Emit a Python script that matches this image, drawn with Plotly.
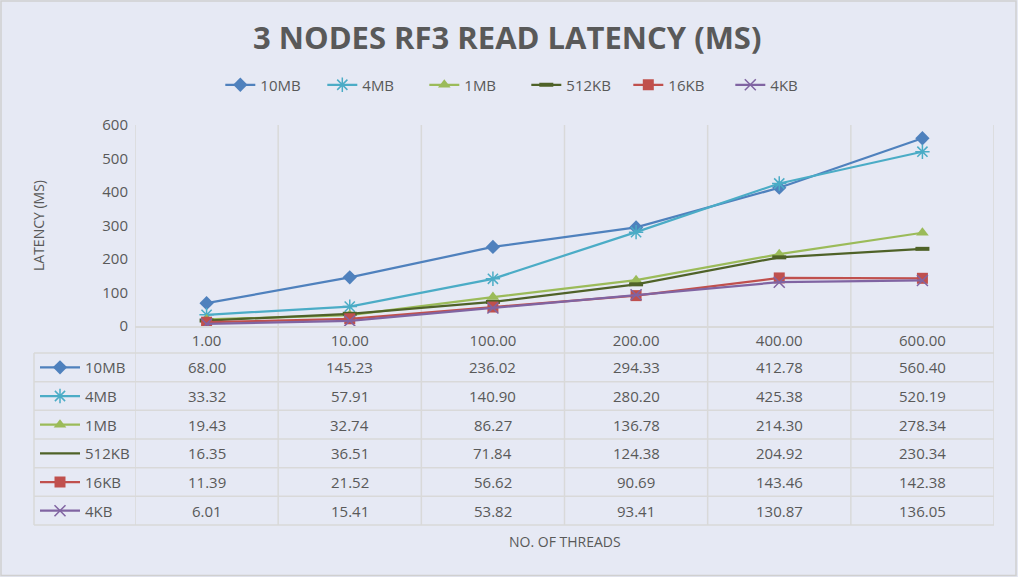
import plotly.graph_objects as go

W, H = 1018, 577

categories = ["1.00", "10.00", "100.00", "200.00", "400.00", "600.00"]
series_names = ["10MB", "4MB", "1MB", "512KB", "16KB", "4KB"]
v_10mb = [68.00, 145.23, 236.02, 294.33, 412.78, 560.40]
v_4mb = [33.32, 57.91, 140.90, 280.20, 425.38, 520.19]
v_1mb = [19.43, 32.74, 86.27, 136.78, 214.30, 278.34]
v_512kb = [16.35, 36.51, 71.84, 124.38, 204.92, 230.34]
v_16kb = [11.39, 21.52, 56.62, 90.69, 143.46, 142.38]
v_4kb = [6.01, 15.41, 53.82, 93.41, 130.87, 136.05]
series_values = [v_10mb, v_4mb, v_1mb, v_512kb, v_16kb, v_4kb]
y_ticks = [0, 100, 200, 300, 400, 500, 600]

colors = ["#4F81BD", "#4BACC6", "#9BBB59", "#4F6228", "#C0504D", "#8064A2"]
markers = [
    dict(symbol="diamond", size=11),
    dict(symbol="asterisk-open", size=12, line=dict(width=1.5)),
    dict(symbol="triangle-up", size=11),
    dict(symbol="line-ew-open", size=10, line=dict(width=4)),
    dict(symbol="square", size=11),
    dict(symbol="x-thin-open", size=11, line=dict(width=1.5)),
]

FONT = "Open Sans"
TXT = "#595959"
GRID = "#D9D9D9"
BG = "#E6E9F4"


def px(x):
    return x / W


def py(y):
    return 1 - y / H


PL, PR, PT, PB = 135, 994, 125, 326
TL, TT, TB = 34, 353, 525

fig = go.Figure()

for name, vals, col, mk in zip(series_names, series_values, colors, markers):
    m = dict(mk)
    m["color"] = col
    if "line" in m:
        m["line"] = dict(m["line"], color=col)
    fig.add_trace(go.Scatter(
        x=categories, y=vals, name=name, mode="lines+markers",
        line=dict(color=col, width=2.25), marker=m,
        xaxis="x", yaxis="y",
    ))

n_rows = len(series_names)
for i, (name, col, mk) in enumerate(zip(series_names, colors, markers)):
    fig.add_trace(go.Scatter(
        x=[6, 46], y=[i + 0.5, i + 0.5], mode="lines",
        line=dict(color=col, width=2.25), showlegend=False,
        xaxis="x2", yaxis="y2", hoverinfo="skip",
    ))
    if name != "512KB":
        m = dict(mk)
        m["color"] = col
        if "line" in m:
            m["line"] = dict(m["line"], color=col)
        fig.add_trace(go.Scatter(
            x=[26], y=[i + 0.5], mode="markers", marker=m, showlegend=False,
            xaxis="x2", yaxis="y2", hoverinfo="skip",
        ))

shapes = []
annotations = []

for k in range(n_rows + 1):
    yy = TT + k * (TB - TT) / n_rows
    shapes.append(dict(type="line", xref="paper", yref="paper",
                       x0=px(TL), x1=px(PR), y0=py(yy), y1=py(yy),
                       line=dict(color=GRID, width=1.5)))
shapes.append(dict(type="line", xref="paper", yref="paper",
                   x0=px(TL), x1=px(TL), y0=py(TT), y1=py(TB),
                   line=dict(color=GRID, width=1.5)))
for j in range(len(categories) + 1):
    shapes.append(dict(type="line", xref="x", yref="paper",
                       x0=j - 0.5, x1=j - 0.5, y0=py(TB), y1=py(PT),
                       line=dict(color=GRID, width=1.5), layer="below"))
shapes.append(dict(type="rect", xref="paper", yref="paper",
                   x0=px(1), x1=px(1016), y0=py(575.5), y1=py(1),
                   line=dict(color="#D0D0D0", width=1.5)))

for i, name in enumerate(series_names):
    annotations.append(dict(xref="x2", yref="y2", x=49, y=i + 0.5, text=name,
                            showarrow=False, xanchor="left", yanchor="middle",
                            font=dict(family=FONT, size=15, color=TXT)))
    for j, v in enumerate(series_values[i]):
        annotations.append(dict(xref="x", yref="y2", x=j, y=i + 0.5,
                                text=f"{v:.2f}", showarrow=False,
                                xanchor="center", yanchor="middle",
                                font=dict(family=FONT, size=15, color=TXT)))

annotations.append(dict(xref="paper", yref="paper", x=px(507), y=py(37),
                        text="<b>3 NODES RF3 READ LATENCY (MS)</b>", showarrow=False,
                        xanchor="center", yanchor="middle",
                        font=dict(family=FONT, size=31, color=TXT)))
annotations.append(dict(xref="paper", yref="paper", x=px(38), y=py(226),
                        text="LATENCY (MS)", showarrow=False, textangle=-90,
                        xanchor="center", yanchor="middle",
                        font=dict(family=FONT, size=14, color=TXT)))
annotations.append(dict(xref="paper", yref="paper", x=px((PL + PR) / 2), y=py(541),
                        text="NO. OF THREADS", showarrow=False,
                        xanchor="center", yanchor="middle",
                        font=dict(family=FONT, size=14, color=TXT)))

fig.update_layout(
    width=W, height=H,
    margin=dict(l=0, r=0, t=0, b=0, pad=0, autoexpand=False),
    paper_bgcolor=BG, plot_bgcolor=BG,
    font=dict(family=FONT, color=TXT, size=15),
    showlegend=True,
    legend=dict(orientation="h", x=0.517, xanchor="center", y=py(85),
                yanchor="middle", font=dict(family=FONT, size=15, color=TXT),
                bgcolor="rgba(0,0,0,0)", entrywidth=57),
    xaxis=dict(domain=[px(PL), px(PR)], type="category", range=[-0.5, 5.5],
               categoryorder="array", categoryarray=categories,
               showgrid=False, zeroline=False, showline=True, linecolor=GRID,
               linewidth=1.5, ticks="", tickfont=dict(family=FONT, size=15, color=TXT),
               anchor="y", fixedrange=True, automargin=False),
    yaxis=dict(domain=[py(PB), py(PT)], range=[0, 600], tickvals=y_ticks,
               showgrid=False, zeroline=False, showline=False, ticks="",
               tickfont=dict(family=FONT, size=15, color=TXT), anchor="x",
               ticklabelstandoff=6, fixedrange=True, automargin=False),
    xaxis2=dict(domain=[px(TL), px(PL)], range=[0, PL - TL], visible=False,
                anchor="y2", fixedrange=True, automargin=False),
    yaxis2=dict(domain=[py(TB), py(TT)], range=[n_rows, 0], visible=False,
                anchor="x2", fixedrange=True, automargin=False),
    shapes=shapes,
    annotations=annotations,
)

fig.write_html(
    "out.html",
    config={"displayModeBar": False, "responsive": False},
    post_script=(
        "document.documentElement.style.margin='0';"
        "document.documentElement.style.overflow='hidden';"
        "document.body.style.margin='0';document.body.style.padding='0';"
        "document.body.style.overflow='hidden';"
        "var d=document.getElementById('{plot_id}');"
        "d.style.position='fixed';d.style.top='0px';d.style.left='0px';"
    ),
)
